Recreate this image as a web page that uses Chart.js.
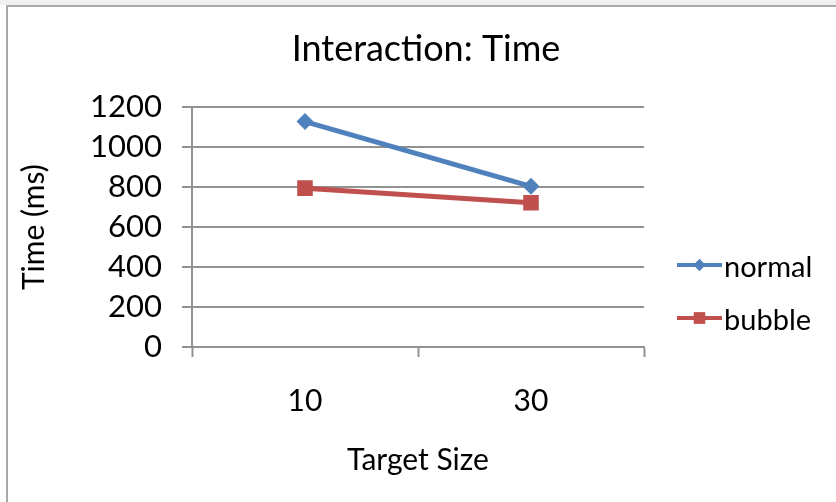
<!DOCTYPE html>
<html>
<head>
<meta charset="utf-8">
<script src="https://cdn.jsdelivr.net/npm/chart.js@4"></script>
<style>
  html, body { margin: 0; padding: 0; background: #fff; }
  #strip { position: absolute; left: 0; top: 0; width: 836px; height: 5px; background: #f0f0f0; }
  #frame { position: absolute; left: 6px; top: 5px; width: 840px; height: 510px;
           border-left: 2px solid #a9a9a9; border-top: 2px solid #a9a9a9; background: #fff; }
  #chart { position: absolute; left: 0; top: 0; }
</style>
</head>
<body>
<div id="strip"></div>
<div id="frame"></div>
<canvas id="chart" width="836" height="502"></canvas>
<script>
const targetSizes = ['10', '30'];
const normalTimes = [1128, 804];
const bubbleTimes = [795, 722];
const yTicks = [0, 200, 400, 600, 800, 1000, 1200];

const BLUE = '#4f81bd';
const RED = '#c0504d';
const AXIS = '#929292';
const FONT = 'Lato, "Open Sans", sans-serif';

// line + marker legend on the right side
const sideLegend = {
    id: 'sideLegend',
    afterDraw(chart) {
        const ctx = chart.ctx;
        const rows = [
            { label: 'normal', color: BLUE, style: 'rectRot', r: 6, y: 265 },
            { label: 'bubble', color: RED, style: 'rect', r: 8, y: 318 }
        ];
        ctx.save();
        rows.forEach(row => {
            ctx.strokeStyle = row.color;
            ctx.lineWidth = 4;
            ctx.beginPath();
            ctx.moveTo(677, row.y);
            ctx.lineTo(722, row.y);
            ctx.stroke();
            ctx.fillStyle = row.color;
            Chart.helpers.drawPoint(ctx, { pointStyle: row.style, radius: row.r, borderWidth: 0 }, 699.5, row.y);
            ctx.fill();
            ctx.fillStyle = '#000';
            ctx.font = '29px ' + FONT;
            ctx.textBaseline = 'middle';
            ctx.textAlign = 'left';
            ctx.fillText(row.label, 724, row.y + 3);
        });
        ctx.restore();
    }
};

new Chart(document.getElementById('chart'), {
    type: 'line',
    data: {
        labels: targetSizes,
        datasets: [
            {
                label: 'normal',
                data: normalTimes,
                borderColor: BLUE,
                backgroundColor: BLUE,
                borderWidth: 5,
                pointStyle: 'rectRot',
                pointRadius: 8.5,
                pointBorderWidth: 0,
                tension: 0
            },
            {
                label: 'bubble',
                data: bubbleTimes,
                borderColor: RED,
                backgroundColor: RED,
                borderWidth: 5,
                pointStyle: 'rect',
                pointRadius: 11,
                pointBorderWidth: 0,
                tension: 0
            }
        ]
    },
    options: {
        responsive: false,
        animation: false,
        layout: { padding: { left: 16, right: 0, top: 0, bottom: 0 } },
        plugins: {
            legend: { display: false },
            tooltip: { enabled: false },
            title: {
                display: true,
                text: 'Interaction: Time',
                color: '#000',
                font: { family: FONT, size: 36, weight: 'normal' },
                padding: { top: 28, bottom: 36 }
            }
        },
        scales: {
            x: {
                offset: true,
                grid: {
                    offset: true,
                    drawOnChartArea: false,
                    drawTicks: true,
                    tickLength: 10,
                    tickColor: AXIS,
                    tickWidth: 2
                },
                border: { color: AXIS, width: 2 },
                ticks: { color: '#000', font: { family: FONT, size: 30 }, padding: 26 },
                title: {
                    display: true,
                    text: 'Target Size',
                    color: '#000',
                    font: { family: FONT, size: 30 },
                    padding: { top: 0, bottom: 24 }
                },
                afterFit: s => { s.height = 155; }
            },
            y: {
                min: 0,
                max: 1200,
                afterBuildTicks: s => { s.ticks = yTicks.map(v => ({ value: v })); },
                grid: {
                    color: AXIS,
                    lineWidth: 2,
                    drawTicks: true,
                    tickLength: 10
                },
                border: { color: AXIS, width: 2 },
                ticks: {
                    color: '#000',
                    font: { family: FONT, size: 31 },
                    padding: 20,
                    autoSkip: false,
                    callback: v => String(v)
                },
                title: {
                    display: true,
                    text: 'Time (ms)',
                    color: '#000',
                    font: { family: FONT, size: 30 },
                    padding: { top: 0, bottom: 0 }
                },
                afterFit: s => { s.width = 176; }
            },
            // empty right-hand axis keeps room for the legend
            side: {
                position: 'right',
                display: true,
                grid: { display: false, drawTicks: false },
                border: { display: false },
                ticks: { display: false },
                afterFit: s => { s.width = 192; }
            }
        }
    },
    plugins: [sideLegend]
});
</script>
</body>
</html>
